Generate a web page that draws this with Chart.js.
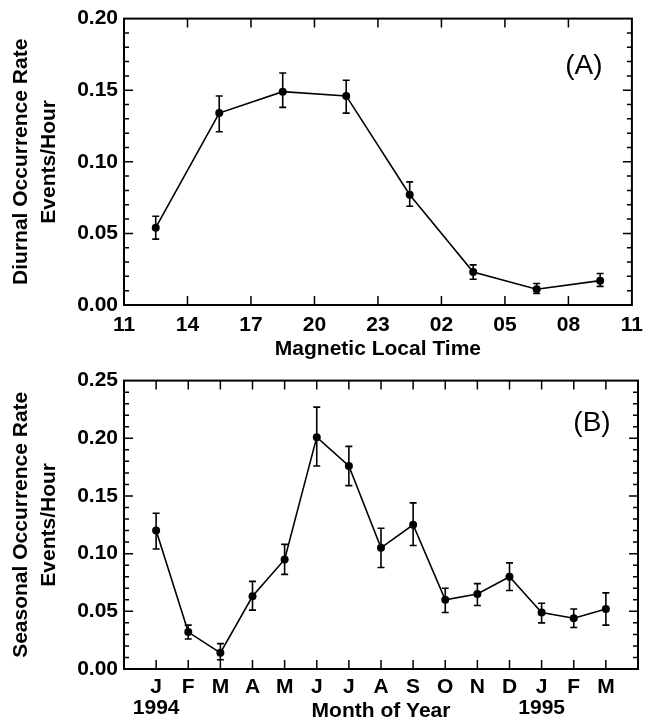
<!DOCTYPE html>
<html>
<head>
<meta charset="utf-8">
<script src="https://cdn.jsdelivr.net/npm/chart.js@4.4.0/dist/chart.umd.min.js"></script>
<style>
    html, body { margin: 0; padding: 0; background: #fff; }
    .panel { position: relative; width: 651px; }
    #panelA { height: 362px; }
    #panelB { height: 360px; }
</style>
</head>
<body>
<div class="panel" id="panelA"><canvas id="diurnalChart"></canvas></div>
<div class="panel" id="panelB"><canvas id="seasonalChart"></canvas></div>
<script>
// Panel A - diurnal rate, x is hours after 11 MLT (3 hour bins)
const mltHours = [1.5, 4.5, 7.5, 10.5, 13.5, 16.5, 19.5, 22.5];
const diurnalRate = [0.054, 0.134, 0.149, 0.146, 0.077, 0.023, 0.011, 0.017];
const diurnalLow = [0.046, 0.121, 0.138, 0.134, 0.069, 0.018, 0.008, 0.013];
const diurnalHigh = [0.062, 0.146, 0.162, 0.157, 0.086, 0.028, 0.015, 0.022];
const mltTickLabels = ['11', '14', '17', '20', '23', '02', '05', '08', '11'];
const diurnalTicks = [0, 0.05, 0.10, 0.15, 0.20];

// Panel B - monthly rate, Jan 1994 .. Mar 1995
const monthIndex = [1, 2, 3, 4, 5, 6, 7, 8, 9, 10, 11, 12, 13, 14, 15];
const monthLabels = ['J', 'F', 'M', 'A', 'M', 'J', 'J', 'A', 'S', 'O', 'N', 'D', 'J', 'F', 'M'];
const yearLabels = ['1994', '', '', '', '', '', '', '', '', '', '', '', '1995', '', ''];
const seasonalRate = [0.120, 0.032, 0.014, 0.063, 0.095, 0.201, 0.176, 0.105, 0.125, 0.060, 0.065, 0.080, 0.049, 0.044, 0.052];
const seasonalLow = [0.104, 0.026, 0.008, 0.051, 0.082, 0.176, 0.159, 0.088, 0.107, 0.049, 0.055, 0.068, 0.040, 0.036, 0.038];
const seasonalHigh = [0.135, 0.038, 0.022, 0.076, 0.108, 0.227, 0.193, 0.122, 0.144, 0.070, 0.074, 0.092, 0.057, 0.052, 0.066];
const seasonalTicks = [0, 0.05, 0.10, 0.15, 0.20, 0.25];

const FONT = 'Liberation Sans, Arial, Helvetica, sans-serif';

// vertical error bars with small caps
const errorBars = {
    id: 'errorBars',
    afterDatasetsDraw(chart, args, opts) {
        const { ctx } = chart;
        const y = chart.scales.y;
        const meta = chart.getDatasetMeta(0);
        ctx.save();
        ctx.strokeStyle = '#000';
        ctx.lineWidth = 1.6;
        ctx.beginPath();
        meta.data.forEach((pt, i) => {
            const yl = y.getPixelForValue(opts.low[i]);
            const yh = y.getPixelForValue(opts.high[i]);
            ctx.moveTo(pt.x, yl); ctx.lineTo(pt.x, yh);
            ctx.moveTo(pt.x - 3.5, yl); ctx.lineTo(pt.x + 3.5, yl);
            ctx.moveTo(pt.x - 3.5, yh); ctx.lineTo(pt.x + 3.5, yh);
        });
        ctx.stroke();
        ctx.restore();
    }
};

// IDL style box: inward ticks on all four sides, minor ticks on y
const boxTicks = {
    id: 'boxTicks',
    afterDraw(chart, args, opts) {
        const { ctx, chartArea: a } = chart;
        const { x, y } = chart.scales;
        ctx.save();
        ctx.strokeStyle = '#000';
        ctx.lineWidth = 1.5;
        ctx.beginPath();
        x.ticks.forEach(t => {
            const px = x.getPixelForValue(t.value);
            if (px <= a.left + 1 || px >= a.right - 1) return;
            ctx.moveTo(px, a.bottom); ctx.lineTo(px, a.bottom - 9);
            ctx.moveTo(px, a.top); ctx.lineTo(px, a.top + 9);
        });
        const n = Math.round((y.max - y.min) / opts.yMinor);
        const every = Math.round(opts.yMajor / opts.yMinor);
        for (let i = 1; i < n; i++) {
            const py = y.getPixelForValue(y.min + i * opts.yMinor);
            const len = i % every === 0 ? 9 : 5;
            ctx.moveTo(a.left, py); ctx.lineTo(a.left + len, py);
            ctx.moveTo(a.right, py); ctx.lineTo(a.right - len, py);
        }
        ctx.stroke();
        ctx.lineWidth = 2;
        ctx.strokeRect(a.left, a.top, a.right - a.left, a.bottom - a.top);

        // panel letter
        ctx.fillStyle = '#000';
        ctx.font = '28px ' + FONT;
        ctx.textAlign = 'center';
        ctx.textBaseline = 'middle';
        ctx.fillText(opts.label, a.right - opts.labelDx, a.top + opts.labelDy);
        ctx.restore();
    }
};

function makeChart(id, s) {
    const ctx = document.getElementById(id).getContext('2d');
    return new Chart(ctx, {
        type: 'line',
        data: {
            datasets: [{
                data: s.xs.map((v, i) => ({ x: v, y: s.ys[i] })),
                borderColor: '#000',
                borderWidth: 1.6,
                pointRadius: 4,
                pointBackgroundColor: '#000',
                pointBorderWidth: 0,
                tension: 0,
                clip: false
            }]
        },
        options: {
            responsive: true,
            maintainAspectRatio: false,
            animation: false,
            layout: { padding: { left: 8, right: 13, top: s.top, bottom: 0 } },
            plugins: {
                legend: { display: false },
                tooltip: { enabled: false },
                errorBars: { low: s.low, high: s.high },
                boxTicks: { yMinor: 0.01, yMajor: 0.05, label: s.label, labelDx: s.labelDx, labelDy: s.labelDy }
            },
            scales: {
                x: {
                    type: 'linear',
                    min: s.xMin,
                    max: s.xMax,
                    afterBuildTicks: sc => { sc.ticks = s.xTicks.map(v => ({ value: v })); },
                    afterFit: sc => { sc.height = s.xHeight; },
                    grid: { display: false, drawTicks: false },
                    border: { display: false },
                    ticks: {
                        autoSkip: false,
                        maxRotation: 0,
                        padding: s.xPad,
                        color: '#000',
                        font: { family: FONT, size: 21, weight: 'bold', lineHeight: s.xLine },
                        callback: s.xLabel
                    },
                    title: {
                        display: true,
                        text: s.xTitle,
                        color: '#000',
                        padding: { top: 0, bottom: 0 },
                        font: { family: FONT, size: 21, weight: 'bold', lineHeight: s.xLine }
                    }
                },
                y: {
                    min: 0,
                    max: s.yMax,
                    afterBuildTicks: sc => { sc.ticks = s.yTicks.map(v => ({ value: v })); },
                    afterFit: sc => { sc.width = 116; },
                    grid: { display: false, drawTicks: false },
                    border: { display: false },
                    ticks: {
                        padding: 6,
                        color: '#000',
                        font: { family: FONT, size: 21, weight: 'bold' },
                        callback: v => v.toFixed(2)
                    },
                    title: {
                        display: true,
                        text: s.yTitle,
                        color: '#000',
                        padding: { top: 0, bottom: 0 },
                        font: { family: FONT, size: 21, weight: 'bold', lineHeight: 1.3 }
                    }
                }
            }
        },
        plugins: [errorBars, boxTicks]
    });
}

makeChart('diurnalChart', {
    xs: mltHours, ys: diurnalRate, low: diurnalLow, high: diurnalHigh,
    xMin: 0, xMax: 24, xTicks: [0, 3, 6, 9, 12, 15, 18, 21, 24],
    xLabel: (v, i) => mltTickLabels[i],
    xTitle: 'Magnetic Local Time',
    xHeight: 57, xPad: 8, xLine: 1.2,
    yMax: 0.20, yTicks: diurnalTicks,
    yTitle: ['Diurnal Occurrence Rate', 'Events/Hour'],
    top: 16, label: '(A)', labelDx: 48, labelDy: 48
});

makeChart('seasonalChart', {
    xs: monthIndex, ys: seasonalRate, low: seasonalLow, high: seasonalHigh,
    xMin: 0, xMax: 16, xTicks: monthIndex,
    xLabel: (v, i) => [monthLabels[i], yearLabels[i]],
    xTitle: 'Month of Year',
    xHeight: 53, xPad: 8, xLine: 1.0,
    yMax: 0.25, yTicks: seasonalTicks,
    yTitle: ['Seasonal Occurrence Rate', 'Events/Hour'],
    top: 18, label: '(B)', labelDx: 46, labelDy: 43
});
</script>
</body>
</html>
